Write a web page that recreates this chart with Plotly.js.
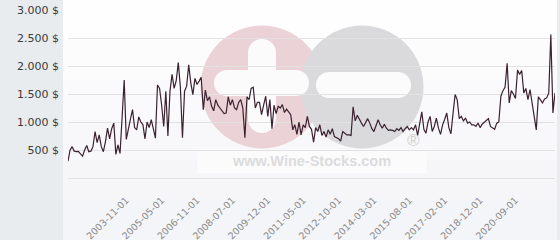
<!DOCTYPE html>
<html>
<head>
<meta charset="utf-8">
<script src="https://cdn.plot.ly/plotly-3.0.1.min.js"></script>
<style>html,body{margin:0;padding:0;background:#e8ecef;}#chart{width:560px;height:240px;}</style>
</head>
<body>
<div id="chart"></div>
<script>
// Price series (one value per observation, in $)
const prices = [
300,500,560,480,470,475,430,390,500,580,
470,480,560,830,630,770,560,470,650,890,
700,880,980,420,590,440,1080,1750,690,900,
1050,1220,900,860,1090,1000,950,700,1000,900,
1040,880,710,1660,1600,1300,920,1550,750,1550,
1850,1600,1740,2060,1620,720,1550,1640,2020,1700,
1490,1780,1670,1730,1800,1220,1570,1380,1450,1280,
1200,1400,1300,1250,1200,1150,1160,1450,1300,1400,
1250,1220,1350,1400,1250,720,1450,1400,1600,1620,
1250,1350,1350,1130,1300,1460,1100,1400,880,1300,
1150,1280,1250,1310,1170,1230,1180,1130,860,950,
780,1000,770,950,900,1100,920,870,640,900,
830,950,760,830,730,860,780,880,740,720,
700,660,830,800,770,770,760,1270,1020,1120,
1040,980,920,980,1060,980,880,830,920,1040,
950,890,960,890,850,860,850,830,880,850,
900,830,880,920,860,900,860,950,760,950,
1180,870,800,1000,1100,830,920,1070,890,780,
950,1050,1160,900,790,1150,1490,1400,1060,1100,
1020,1070,980,1000,950,950,920,980,900,960,
990,1030,1060,920,900,870,980,1000,1460,1560,
1620,2050,1340,1560,1500,1420,1930,1850,1920,1520,
1600,1400,1580,1350,1100,860,1450,1400,1340,1410,
1430,1520,2560,1160,1520
];
// Observation index of each labelled date
const dateTickIndex = [28,45,62,79,96,113,130,147,164,181,198,215];
const dateTickLabels = ['2003-11-01','2005-05-01','2006-11-01','2008-07-01','2009-12-01','2011-05-01','2012-10-01','2014-03-01','2015-08-01','2017-02-01','2018-12-01','2020-09-01'];
const priceTicks = [500,1000,1500,2000,2500,3000];
const priceTickLabels = ['500 $','1.000 $','1.500 $','2.000 $','2.500 $','3.000 $'];

const W = 560, H = 240;
const M = {l:68, r:5, t:10, b:62};
const pw = W - M.l - M.r, ph = H - M.t - M.b;
const px = v => (v - M.l) / pw;
const py = v => (H - M.b - v) / ph;
function rect(x0,y0,x1,y1,color){
  return {type:'rect', xref:'paper', yref:'paper', x0:px(x0), x1:px(x1), y0:py(y1), y1:py(y0),
          fillcolor:color, line:{width:0}, layer:'below'};
}
function circ(cx,cy,r,color){
  return {type:'circle', xref:'paper', yref:'paper', x0:px(cx-r), x1:px(cx+r), y0:py(cy+r), y1:py(cy-r),
          fillcolor:color, line:{width:0}, layer:'below'};
}
function hbar(x0,x1,y0,y1,color){
  const r=(y1-y0)/2, cy=(y0+y1)/2;
  return [rect(x0+r,y0,x1-r,y1,color), circ(x0+r,cy,r,color), circ(x1-r,cy,r,color)];
}
function vbar(x0,x1,y0,y1,color){
  const r=(x1-x0)/2, cx=(x0+x1)/2;
  return [rect(x0,y0+r,x1,y1-r,color), circ(cx,y0+r,r,color), circ(cx,y1-r,r,color)];
}

const bands = ['#fefefe','#fcfcfd','#fafafc','#f8f8fa','#f6f6f9','#f4f5f8'];
const shapes = [];
bands.forEach((c,i)=>{ shapes.push(rect(63, i*40, 557, (i+1)*40, c)); });
shapes.push(rect(197,150,427,173,'#fbfbfc'));
shapes.push(circ(262,87,61.5,'#ebd2d7'));
shapes.push(circ(362,87,61.5,'#dadadc'));
const white = '#fbfbfc';
shapes.push(...vbar(248,276,39,133,white));
shapes.push(...hbar(214,309,70,96,white));
shapes.push(...hbar(316,411,72,98,white));

const trace = {
  y: prices,
  type:'scatter', mode:'lines',
  line:{color:'#3b2230', width:1.2},
  hoverinfo:'y'
};

const layout = {
  width:W, height:H,
  margin:M,
  paper_bgcolor:'#e8ecef',
  plot_bgcolor:'rgba(0,0,0,0)',
  showlegend:false,
  font:{family:'DejaVu Sans', size:11, color:'#3a3a3a'},
  xaxis:{
    range:[0, prices.length-1],
    tickvals:dateTickIndex, ticktext:dateTickLabels,
    tickangle:-45, tickfont:{size:9.5, color:'#8a8a8a'},
    showgrid:false, zeroline:false, showline:true, linecolor:'#e0e0e0', linewidth:1,
    ticks:'', ticklabelstandoff:12
  },
  yaxis:{
    range:[0,3000],
    tickvals:priceTicks, ticktext:priceTickLabels,
    gridcolor:'#e2e2e2', gridwidth:1, zeroline:false, showline:false,
    ticks:'', ticklabelstandoff:8, tickfont:{size:11, color:'#3a3a3a'}
  },
  shapes:shapes,
  annotations:[
    {xref:'paper', yref:'paper', x:px(311), y:py(161), text:'<b>www.Wine-Stocks.com</b>', showarrow:false,
     font:{family:'Liberation Sans', size:14.5, color:'#dcdcdc'}, xanchor:'center', yanchor:'middle'},
    {xref:'paper', yref:'paper', x:px(413), y:py(140), text:'®', showarrow:false,
     font:{family:'Liberation Sans', size:17, color:'#d2d2d2'}, xanchor:'center', yanchor:'middle'}
  ]
};

Plotly.newPlot('chart', [trace], layout, {staticPlot:true, displayModeBar:false});
</script>
</body>
</html>
